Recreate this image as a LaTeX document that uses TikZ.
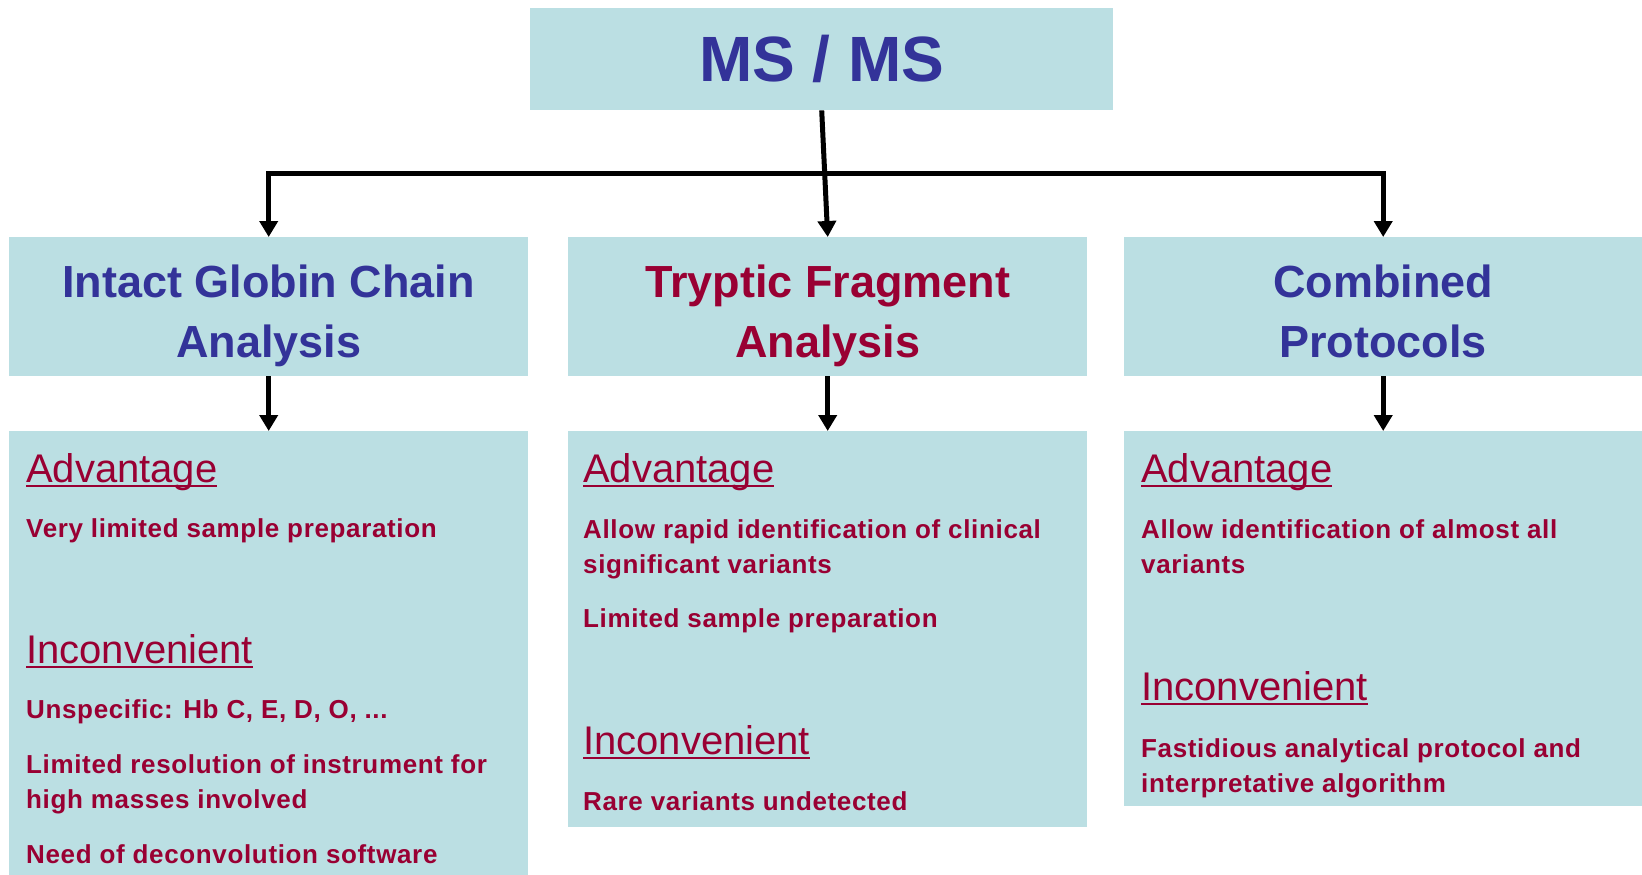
\documentclass[tikz,border=0pt]{standalone}
\usepackage{fontspec}
\setmainfont{Liberation Sans}
\usetikzlibrary{arrows.meta, positioning}
\definecolor{BoxFill}{RGB}{187,223,227}
\definecolor{TitleBlue}{RGB}{51,51,153}
\definecolor{NoteRed}{RGB}{153,0,51}
\newcommand{\secthead}[1]{\setbox0\hbox{#1}\rlap{\rule[-5pt]{\wd0}{2pt}}\box0}
\begin{document}
\begin{tikzpicture}[x=1pt, y=-1pt, >={Triangle[length=16pt, width=18pt]},
    box/.style={fill=BoxFill, inner sep=0pt, anchor=north west},
    head/.style={box, minimum width=519, minimum height=139},
    headtext/.style={anchor=base, inner sep=0pt, align=center,
                 font=\fontsize{45}{60}\selectfont\bfseries},
    infobox/.style={box, minimum width=519},
    sect/.style={anchor=base west, inner sep=0pt, text=NoteRed, font=\fontsize{40}{40}\selectfont},
    note/.style={anchor=base west, inner sep=0pt, text=NoteRed, align=left,
                 font=\fontsize{26}{35}\selectfont\bfseries\addfontfeatures{LetterSpace=2.5}},
    link/.style={->, line width=5pt}]
    \useasboundingbox (0,0) rectangle (1642,875);
    % Title
    \node[box, minimum width=583, minimum height=102, text=TitleBlue,
          font=\fontsize{64}{64}\selectfont\bfseries] (ms) at (530,8) {MS / MS};
    % Method boxes (titles sit on their last baseline)
    \coordinate (headbase) at (0,357);
    \node[head] (intact) at (9,237) {};
    \node[head] (tryptic) at (568,237) {};
    \node[head, minimum width=518] (combined) at (1124,237) {};
    \node[headtext, text=TitleBlue] (intactTitle) at (intact.center |- headbase) {Intact Globin Chain\\Analysis};
    \node[headtext, text=NoteRed] (trypticTitle) at (tryptic.center |- headbase) {Tryptic Fragment\\Analysis};
    \node[headtext, text=TitleBlue] (combinedTitle) at (combined.center |- headbase) {Combined\\Protocols};
    % Detail boxes
    \node[infobox, minimum height=460] (intactInfo) at (9,431) {};
    \node[infobox, minimum height=396] (trypticInfo) at (568,431) {};
    \node[infobox, minimum height=375, minimum width=518] (combinedInfo) at (1124,431) {};
    % Connectors
    \coordinate (bus) at (0,173);
    \draw[link] (ms.south) -- (tryptic.north);
    \draw[link] (ms.south |- bus) -| (intact.north);
    \draw[link] (ms.south |- bus) -| (combined.north);
    \draw[link] (intact.south) -- (intactInfo.north);
    \draw[link] (tryptic.south) -- (trypticInfo.north);
    \draw[link] (combined.south) -- (combinedInfo.north);
    % Intact globin chain (multi-line notes sit on their last baseline)
    \node[sect] (intactAdv) at (26,482) {\secthead{Advantage}};
    \node[note] (intactAdv1) at (26,537) {Very limited sample preparation};
    \node[sect] (intactInc) at (26,663) {\secthead{Inconvenient}};
    \node[note] (intactInc1) at (26,718) {Unspecific: Hb C, E, D, O, ...};
    \node[note] (intactInc2) at (26,808) {Limited resolution of instrument for\\high masses involved};
    \node[note] (intactInc3) at (26,863) {Need of deconvolution software};
    % Tryptic fragment
    \node[sect] (trypticAdv) at (583,482) {\secthead{Advantage}};
    \node[note] (trypticAdv1) at (583,573) {Allow rapid identification of clinical\\significant variants};
    \node[note] (trypticAdv2) at (583,627) {Limited sample preparation};
    \node[sect] (trypticInc) at (583,754) {\secthead{Inconvenient}};
    \node[note] (trypticInc1) at (583,810) {Rare variants undetected};
    % Combined protocols
    \node[sect] (combinedAdv) at (1141,482) {\secthead{Advantage}};
    \node[note] (combinedAdv1) at (1141,573) {Allow identification of almost all\\variants};
    \node[sect] (combinedInc) at (1141,700) {\secthead{Inconvenient}};
    \node[note] (combinedInc1) at (1141,792) {Fastidious analytical protocol and\\interpretative algorithm};
\end{tikzpicture}
\end{document}
